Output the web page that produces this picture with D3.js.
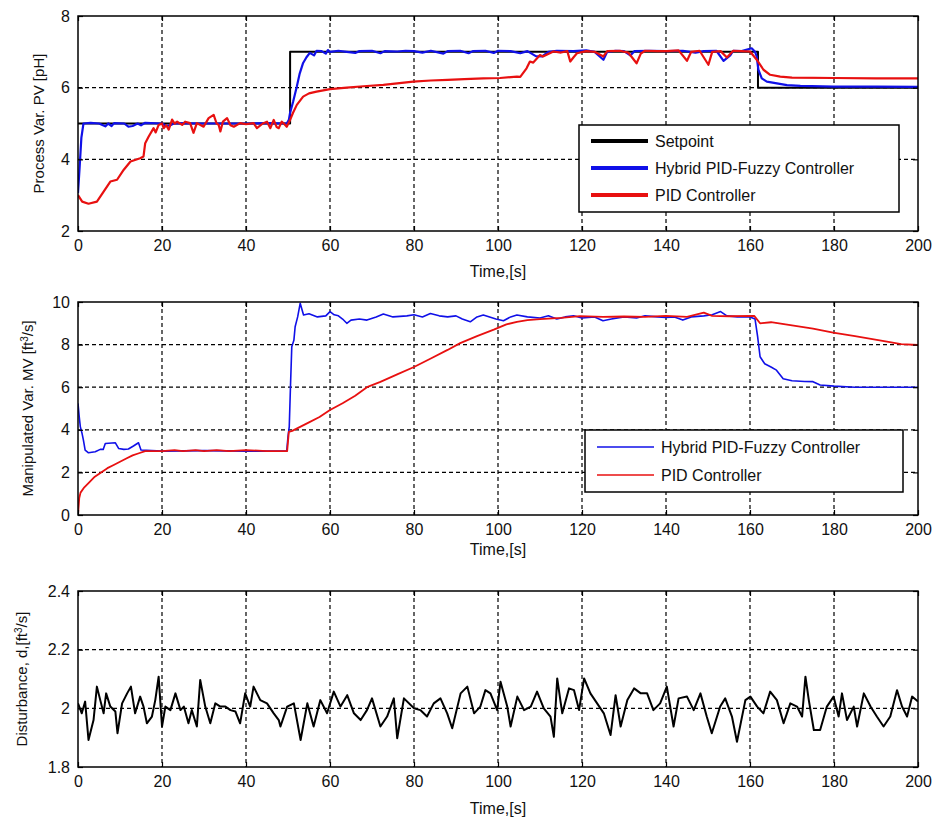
<!DOCTYPE html>
<html>
<head>
<meta charset="utf-8">
<script src="https://cdn.jsdelivr.net/npm/d3@7"></script>
<style>
html,body{margin:0;padding:0;background:#fff;}
svg text{font-family:"Liberation Sans",Arial,Helvetica,sans-serif;fill:#111;}
</style>
</head>
<body>
<svg id="chart" width="937" height="823"></svg>
<script>
// ---------------- DATA ----------------
const timeTicks = [0, 20, 40, 60, 80, 100, 120, 140, 160, 180, 200];
const phTicks = [2, 4, 6, 8];
const mvTicks = [0, 2, 4, 6, 8, 10];
const distTicks = [1.8, 2.0, 2.2, 2.4];
const distTickLabels = ["1.8", "2", "2.2", "2.4"];

const seriesNames = ["Setpoint", "Hybrid PID-Fuzzy Controller", "PID Controller"];

// Process variable (pH): [time, value]
const setpointPH = [[0,5],[50.5,5],[50.5,7],[161.9,7],[161.9,6],[200,6]];

const hybridPH = [[0,3.06],[0.4,3.8],[0.8,4.6],[1.3,5.0],[3,5.02],[5,5.0],[6.5,4.92],[7.2,5.0],[8,4.93],[8.6,5.01],[11,5.0],[12,4.91],[13,4.93],[14.2,5.0],[15,4.95],[16,5.02],[20,5.0],[21,4.93],[22,4.95],[23,5.01],[30,5.0],[40,5.0],[45,5.01],[49.7,5.0],[50.2,5.1],[50.5,5.3],[51.2,5.6],[52.1,6.03],[52.8,6.4],[53.6,6.69],[54.4,6.85],[55.2,6.97],[56.2,6.9],[56.8,7.03],[58,7.02],[59,6.95],[59.5,7.05],[60,7.0],[62,7.03],[64,7.0],[66,6.97],[67,7.02],[70,7.03],[72,6.96],[73,7.02],[76,7.01],[78,7.03],[80,7.02],[82,6.98],[84,7.03],[87,6.95],[88,7.02],[91,7.03],[93,6.96],[94,7.02],[97,7.03],[99,6.97],[100,7.03],[103,7.02],[105.3,6.96],[107,7.02],[109,6.88],[110.5,6.87],[112,7.0],[114,7.03],[118,7.02],[121,7.04],[123,7.0],[125.1,6.78],[126,7.0],[128,7.03],[130,7.02],[131.5,6.9],[132.5,7.02],[136,7.03],[140,7.02],[144,7.03],[147,6.98],[149,7.02],[152,7.03],[153.7,6.75],[155.3,6.9],[156,7.03],[158,7.02],[160.4,7.1],[161.2,7.0],[161.6,6.87],[162,6.5],[162.8,6.26],[164,6.17],[166.4,6.12],[168.8,6.07],[172,6.05],[180,6.03],[190,6.03],[200,6.02]];

const pidPH = [[0,3.0],[1,2.82],[2.5,2.76],[4.5,2.82],[6.1,3.1],[7.7,3.38],[9.3,3.43],[10.9,3.71],[12.5,3.94],[14.8,4.03],[15.6,4.08],[16,4.45],[16.8,4.63],[18,4.87],[18.5,4.75],[19.2,4.96],[20,5.0],[20.4,4.87],[21,4.95],[21.6,4.83],[22.4,5.11],[23,5.0],[23.6,5.05],[24.8,4.96],[25.5,5.05],[26.7,5.01],[27.5,4.74],[28.3,5.01],[29.9,4.91],[31.1,5.15],[32.3,5.24],[33,5.0],[33.5,4.96],[33.9,4.78],[34.5,5.05],[35.5,5.15],[36.3,4.95],[37.1,4.91],[38.6,5.01],[40,4.98],[41.8,5.01],[42.6,4.87],[44,5.0],[45,5.05],[45.8,4.87],[46.6,5.1],[47.3,4.9],[47.8,4.87],[48.5,5.05],[49,5.0],[49.7,4.91],[50.5,5.1],[51.2,5.3],[52.1,5.52],[53.6,5.75],[55,5.84],[56.8,5.89],[60,5.96],[64,6.0],[68,6.04],[72.7,6.08],[76,6.12],[79.8,6.17],[84,6.2],[88,6.22],[92,6.24],[96.5,6.26],[100.5,6.27],[104.5,6.31],[105.3,6.3],[106.8,6.54],[107.6,6.73],[108.4,6.7],[110,6.91],[110.7,6.87],[113.2,7.01],[115,6.98],[116.5,7.02],[117.2,6.73],[118,6.85],[118.8,6.96],[121,7.02],[123,7.0],[125.1,6.87],[126,7.02],[129,7.03],[131,6.98],[133,6.68],[134,6.95],[135,7.03],[138,7.02],[140.2,7.02],[143,7.04],[145,6.75],[146,7.0],[148,7.03],[150.1,6.64],[151,7.0],[153,7.02],[154.5,6.84],[156,7.03],[158,7.02],[160,7.01],[161.6,6.78],[163.2,6.5],[164.8,6.36],[167.2,6.31],[170,6.28],[180,6.27],[190,6.26],[200,6.26]];

// Manipulated variable (ft^3/s): [time, value]
const hybridMV = [[0,5.24],[0.3,4.6],[0.55,4.15],[0.95,3.84],[1.3,3.5],[1.7,3.05],[2.5,2.92],[4.1,2.97],[5.3,3.08],[6,3.08],[6.5,3.36],[8.9,3.39],[9.7,3.12],[10.9,3.08],[12,3.1],[13.2,3.24],[14.4,3.39],[15,3.05],[20,3.0],[30,3.02],[40,3.0],[49.7,3.0],[50,3.68],[50.3,4.15],[50.6,6.1],[50.9,7.9],[51.4,8.2],[51.7,8.84],[52.3,9.3],[52.9,9.94],[53.7,9.39],[55,9.45],[57,9.3],[59,9.35],[60,9.55],[61,9.4],[62,9.35],[63,9.2],[64,9.0],[65,9.15],[67,9.2],[68.8,9.15],[71,9.3],[72.7,9.44],[75,9.3],[78.3,9.35],[80,9.4],[82,9.3],[83.9,9.46],[86,9.35],[88,9.3],[90,9.35],[91.5,9.2],[93.4,9.07],[95,9.3],[96.5,9.39],[98,9.3],[99.5,9.2],[101.3,9.12],[103,9.3],[104.5,9.39],[107,9.3],[110,9.25],[112,9.35],[114,9.2],[116,9.3],[118,9.35],[120,9.25],[123,9.3],[125,9.12],[127,9.2],[130,9.3],[133,9.25],[135,9.35],[138,9.3],[140,9.28],[142,9.3],[144,9.15],[146,9.3],[149,9.35],[151,9.4],[153,9.55],[154.5,9.35],[157,9.3],[160,9.3],[161.2,9.2],[161.8,8.4],[162.4,7.43],[163.5,7.1],[165,6.95],[166.3,6.8],[167.9,6.4],[170,6.3],[173,6.27],[175,6.26],[176.7,6.1],[180,6.05],[185,6.0],[200,6.0]];

const pidMV = [[0,0],[0.3,0.8],[0.6,1.05],[1.5,1.3],[2.5,1.5],[4,1.8],[5.5,2.0],[7,2.2],[8.5,2.35],[10,2.5],[11.5,2.65],[13,2.8],[14.5,2.9],[16,3.0],[20,3.0],[23,3.05],[25,3.0],[28,3.05],[30,3.0],[33,3.05],[36,3.0],[40,3.05],[45,3.0],[49.8,3.0],[50.2,3.9],[51,3.95],[53,4.15],[55,4.35],[57.5,4.6],[60,4.93],[63,5.25],[66,5.6],[68.8,6.0],[72,6.25],[76,6.6],[80,6.95],[84,7.35],[88,7.75],[91,8.07],[95,8.4],[99,8.7],[102,8.95],[104.5,9.07],[107,9.15],[110,9.2],[115,9.25],[119.5,9.34],[125,9.3],[130,9.32],[135,9.3],[140,9.35],[145,9.3],[149,9.5],[151,9.35],[155,9.33],[161,9.35],[162.4,9.0],[165,9.05],[170,8.9],[175,8.75],[179.8,8.56],[185,8.4],[192.6,8.14],[196,8.02],[200,7.98]];

// Disturbance (ft^3/s)
const distTime = [0,0.9,1.7,2.5,3.7,4.5,5.3,6.1,6.7,7.7,8.9,9.4,10.5,11.7,12.6,13.6,14.8,15.6,16.4,17.6,18.4,19.2,20.0,20.8,22.0,23.2,24.4,25.2,26.3,27.1,28.3,29.1,30.3,31.5,32.7,33.9,35.1,36.3,37.5,38.6,39.8,41.0,41.8,43.4,45.0,46.6,47.8,48.2,49.8,51.4,53.0,54.6,56.1,57.7,59.3,60.9,62.5,64.1,65.7,67.3,68.8,70.0,72.0,73.6,75.2,76.0,77.6,80.0,81.5,83.1,84.7,86.3,87.9,89.1,91.1,92.7,94.3,95.8,97.0,98.2,99.8,100.6,102.2,103.0,104.6,106.2,107.8,109.3,110.9,112.5,113.3,114.1,115.3,116.9,118.1,119.3,120.5,122.0,123.6,125.2,126.8,128.0,129.2,130.8,132.4,134.0,135.5,137.0,138.6,140.2,141.8,143.0,145.0,146.6,148.2,149.7,150.9,152.9,154.1,155.7,156.9,158.9,160.1,161.7,163.2,164.8,166.4,168.0,169.6,171.2,172.4,173.2,174.0,175.2,176.7,178.3,179.9,181.1,181.9,183.1,184.7,185.5,187.1,188.7,190.2,191.8,193.4,195.0,196.2,197.4,198.6,200.0];
const distValue = [2.017,1.983,2.023,1.892,1.960,2.074,2.028,1.983,2.051,2.006,1.989,1.915,2.017,2.051,2.074,1.983,2.040,2.006,1.949,1.972,2.028,2.108,1.938,2.006,1.994,2.051,1.994,2.006,1.949,1.994,1.938,2.097,2.006,1.949,2.017,2.006,2.006,1.994,1.989,1.949,2.051,2.006,2.074,2.028,2.017,1.983,1.960,1.938,2.006,2.017,1.892,2.017,1.938,2.028,1.983,2.057,2.006,2.045,1.983,1.960,1.994,2.034,1.938,1.972,2.034,1.898,2.034,2.000,1.994,1.972,2.017,2.034,1.983,1.932,2.051,2.074,1.983,2.006,2.062,2.051,1.994,2.091,2.006,1.938,2.040,1.994,2.006,2.057,2.000,1.972,1.903,2.102,1.983,2.068,2.062,1.994,2.102,2.051,2.017,1.983,1.909,2.045,1.938,2.028,2.068,2.051,2.051,1.994,2.017,2.074,1.938,2.034,2.040,1.994,2.051,1.972,1.915,2.006,2.034,1.972,1.886,2.028,2.040,2.006,1.983,2.057,2.028,1.949,2.017,2.006,1.972,2.108,2.028,1.926,1.926,2.006,2.040,1.972,2.051,1.960,2.006,1.938,2.051,2.006,1.972,1.938,1.972,2.062,2.006,1.972,2.040,2.023];

// ---------------- DRAWING ----------------
const svg = d3.select("#chart");
svg.append("rect").attr("width", 937).attr("height", 823).attr("fill", "#fff");

const X0 = 78, X1 = 918;
const x = d3.scaleLinear().domain([0, 200]).range([X0, X1]);
const BLUE = "#1010e8", RED = "#e81010", BLACK = "#000";

function panel(cfg) {
  const y = d3.scaleLinear().domain(cfg.domain).range([cfg.bottom, cfg.top]);
  const g = svg.append("g");
  // grid
  const grid = g.append("g").attr("stroke", "#000").attr("stroke-width", 1.2).attr("stroke-dasharray", "4,3");
  timeTicks.slice(1, -1).forEach(t => {
    grid.append("line").attr("x1", x(t)).attr("x2", x(t)).attr("y1", cfg.top).attr("y2", cfg.bottom);
  });
  cfg.ticks.slice(1, -1).forEach(v => {
    grid.append("line").attr("x1", X0).attr("x2", X1).attr("y1", y(v)).attr("y2", y(v));
  });
  // series
  const clip = "clip" + cfg.id;
  svg.append("clipPath").attr("id", clip).append("rect")
    .attr("x", X0).attr("y", cfg.top - 2).attr("width", X1 - X0).attr("height", cfg.bottom - cfg.top + 4);
  const sg = g.append("g").attr("clip-path", `url(#${clip})`);
  cfg.series.forEach(s => {
    const line = d3.line().x(d => x(d[0])).y(d => y(d[1])).curve(s.curve || d3.curveLinear);
    sg.append("path").datum(s.data).attr("d", line).attr("fill", "none")
      .attr("stroke", s.color).attr("stroke-width", s.width).attr("stroke-linejoin", "round");
  });
  // axes
  const fs = "16px";
  const ax = g.append("g").attr("transform", `translate(0,${cfg.bottom})`)
    .call(d3.axisBottom(x).tickValues(timeTicks).tickSize(-5).tickPadding(9).tickFormat(d3.format("d")));
  ax.select(".domain").remove();
  ax.selectAll("text").style("font-size", fs).style("font-family", "Liberation Sans, Arial");
  const axt = g.append("g").attr("transform", `translate(0,${cfg.top})`)
    .call(d3.axisTop(x).tickValues(timeTicks).tickSize(-5).tickFormat(""));
  axt.select(".domain").remove();
  const ay = g.append("g").attr("transform", `translate(${X0},0)`)
    .call(d3.axisLeft(y).tickValues(cfg.ticks).tickSize(-5).tickPadding(8).tickFormat((d, i) => cfg.labels[i]));
  ay.select(".domain").remove();
  ay.selectAll("text").style("font-size", fs).style("font-family", "Liberation Sans, Arial");
  const ayr = g.append("g").attr("transform", `translate(${X1},0)`)
    .call(d3.axisRight(y).tickValues(cfg.ticks).tickSize(-5).tickFormat(""));
  ayr.select(".domain").remove();
  g.selectAll(".tick line").attr("stroke", "#000").attr("stroke-width", 1.2);
  g.append("rect").attr("x", X0).attr("y", cfg.top).attr("width", X1 - X0).attr("height", cfg.bottom - cfg.top)
    .attr("fill", "none").attr("stroke", "#000").attr("stroke-width", 1.5);
  // titles
  g.append("text").attr("x", (X0 + X1) / 2).attr("y", cfg.xTitleY).attr("text-anchor", "middle")
    .style("font-size", "16px").text("Time,[s]");
  const yt = g.append("text").attr("transform", `translate(${cfg.yTitleX},${(cfg.top + cfg.bottom) / 2}) rotate(-90)`)
    .attr("text-anchor", "middle").style("font-size", "15px");
  cfg.yTitle(yt);
  // legend
  if (cfg.legend) {
    const L = cfg.legend;
    const lg = g.append("g");
    lg.append("rect").attr("x", L.x).attr("y", L.y).attr("width", L.w).attr("height", L.h)
      .attr("fill", "#fff").attr("stroke", "#000").attr("stroke-width", 1.5);
    L.items.forEach((it, i) => {
      const yy = L.y + L.first + i * L.step;
      lg.append("line").attr("x1", L.x + 12).attr("x2", L.x + 69).attr("y1", yy).attr("y2", yy)
        .attr("stroke", it.color).attr("stroke-width", it.width);
      lg.append("text").attr("x", L.x + 76).attr("y", yy).attr("dy", "0.35em")
        .style("font-size", "16px").text(it.name);
    });
  }
}

panel({
  id: 1, top: 16, bottom: 231, domain: [2, 8], ticks: phTicks, labels: phTicks.map(String),
  xTitleY: 277, yTitleX: 44,
  yTitle: t => t.text("Process Var. PV [pH]"),
  series: [
    { data: setpointPH, color: BLACK, width: 2 },
    { data: hybridPH, color: BLUE, width: 2.2 },
    { data: pidPH, color: RED, width: 2.2 }
  ],
  legend: { x: 579, y: 125, w: 320, h: 87, first: 16, step: 27,
    items: [
      { name: seriesNames[0], color: BLACK, width: 4 },
      { name: seriesNames[1], color: BLUE, width: 4 },
      { name: seriesNames[2], color: RED, width: 4 }
    ] }
});

panel({
  id: 2, top: 302, bottom: 515, domain: [0, 10], ticks: mvTicks, labels: mvTicks.map(String),
  xTitleY: 555, yTitleX: 33,
  yTitle: t => { t.append("tspan").text("Manipulated Var. MV [ft"); t.append("tspan").attr("baseline-shift", "super").style("font-size", "10px").text("3"); t.append("tspan").text("/s]"); },
  series: [
    { data: hybridMV, color: BLUE, width: 1.6 },
    { data: pidMV, color: RED, width: 1.8 }
  ],
  legend: { x: 585, y: 430, w: 318, h: 62, first: 17, step: 28,
    items: [
      { name: seriesNames[1], color: BLUE, width: 1.6 },
      { name: seriesNames[2], color: RED, width: 1.6 }
    ] }
});

panel({
  id: 3, top: 591, bottom: 767, domain: [1.8, 2.4], ticks: distTicks, labels: distTickLabels,
  xTitleY: 814, yTitleX: 27,
  yTitle: t => { t.append("tspan").text("Disturbance, d,[ft"); t.append("tspan").attr("baseline-shift", "super").style("font-size", "10px").text("3"); t.append("tspan").text("/s]"); },
  series: [
    { data: distTime.map((t, i) => [t, distValue[i]]), color: BLACK, width: 2 }
  ]
});
</script>
</body>
</html>
